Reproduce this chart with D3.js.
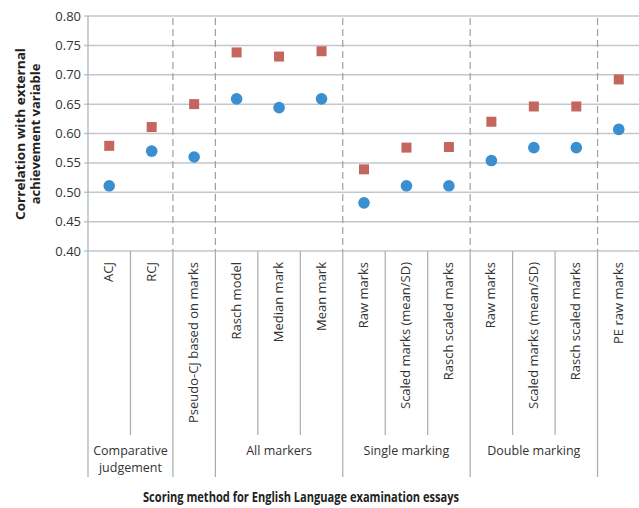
<!DOCTYPE html>
<html>
<head>
<meta charset="utf-8">
<script src="https://cdn.jsdelivr.net/npm/d3@7"></script>
<style>
    body { margin: 0; background: #fff; }
    svg { font-family: "Open Sans", "Noto Sans", sans-serif; }
</style>
</head>
<body>
<svg width="639" height="508"></svg>
<script>
const CATEGORIES = [
    'ACJ', 'RCJ', 'Pseudo-CJ based on marks',
    'Rasch model', 'Median mark', 'Mean mark',
    'Raw marks', 'Scaled marks (mean/SD)', 'Rasch scaled marks',
    'Raw marks', 'Scaled marks (mean/SD)', 'Rasch scaled marks',
    'PE raw marks'
];
const SQUARES = [0.579, 0.611, 0.650, 0.738, 0.731, 0.740, 0.539, 0.576, 0.577, 0.620, 0.646, 0.646, 0.692];
const CIRCLES = [0.511, 0.570, 0.560, 0.659, 0.644, 0.659, 0.482, 0.511, 0.511, 0.554, 0.576, 0.576, 0.607];
const Y_TICKS = [0.40, 0.45, 0.50, 0.55, 0.60, 0.65, 0.70, 0.75, 0.80];
const GROUPS = [
    { label: ['Comparative', 'judgement'], from: 0, to: 1 },
    { label: [], from: 2, to: 2 },
    { label: ['All markers'], from: 3, to: 5 },
    { label: ['Single marking'], from: 6, to: 8 },
    { label: ['Double marking'], from: 9, to: 11 },
    { label: [], from: 12, to: 12 }
];

const RED = '#c4665e';
const BLUE = '#3a8fd0';
const GRID = '#c3c7cb';
const TEXT = '#333';

const svg = d3.select('svg');
const top_ = 16, bottom = 251, left = 88, right = 640;

const x = d3.scaleBand()
    .domain(d3.range(CATEGORIES.length))
    .range([left, right]);
const y = d3.scaleLinear()
    .domain([0.40, 0.80])
    .range([bottom, top_]);

// horizontal grid
svg.append('g')
    .selectAll('line')
    .data(Y_TICKS)
    .enter()
    .append('line')
    .attr('x1', left - 4)
    .attr('x2', right)
    .attr('y1', d => y(d))
    .attr('y2', d => y(d))
    .attr('stroke', GRID)
    .attr('stroke-width', 1.5);

// y tick labels
svg.append('g')
    .selectAll('text')
    .data(Y_TICKS)
    .enter()
    .append('text')
    .attr('x', left - 7)
    .attr('y', d => y(d))
    .attr('dy', '0.35em')
    .attr('text-anchor', 'end')
    .attr('fill', TEXT)
    .style('font-size', '13px')
    .text(d => d.toFixed(2));

// left axis line, through the label area
svg.append('line')
    .attr('x1', left).attr('x2', left)
    .attr('y1', top_).attr('y2', 477)
    .attr('stroke', '#a9adb1')
    .attr('stroke-width', 1.2);

// dashed separators in the plot and solid ones below
const groupEdges = GROUPS.map(g => g.from).filter(i => i > 0);
svg.append('g')
    .selectAll('line')
    .data(groupEdges)
    .enter()
    .append('line')
    .attr('x1', d => x(d)).attr('x2', d => x(d))
    .attr('y1', top_ + 2).attr('y2', bottom)
    .attr('stroke', '#9aa0a6')
    .attr('stroke-width', 1.2)
    .attr('stroke-dasharray', '7,4');

svg.append('g')
    .selectAll('line')
    .data(groupEdges)
    .enter()
    .append('line')
    .attr('x1', d => x(d)).attr('x2', d => x(d))
    .attr('y1', bottom).attr('y2', 477)
    .attr('stroke', '#a9adb1')
    .attr('stroke-width', 1.2);

const innerEdges = d3.range(1, CATEGORIES.length).filter(i => !groupEdges.includes(i));
svg.append('g')
    .selectAll('line')
    .data(innerEdges)
    .enter()
    .append('line')
    .attr('x1', d => x(d)).attr('x2', d => x(d))
    .attr('y1', bottom).attr('y2', 435)
    .attr('stroke', '#a9adb1')
    .attr('stroke-width', 1.2);

// category labels
svg.append('g')
    .selectAll('text')
    .data(CATEGORIES)
    .enter()
    .append('text')
    .attr('transform', (d, i) => `translate(${x(i) + x.bandwidth() / 2 + 4}, 262) rotate(-90)`)
    .attr('text-anchor', 'end')
    .attr('fill', TEXT)
    .style('font-size', '13px')
    .text(d => d);

// group labels
GROUPS.forEach(g => {
    const cx = (x(g.from) + x(g.to) + x.bandwidth()) / 2;
    g.label.forEach((line, k) => {
        svg.append('text')
            .attr('x', cx)
            .attr('y', 455 + k * 17)
            .attr('text-anchor', 'middle')
            .attr('fill', TEXT)
            .style('font-size', '12.5px')
            .text(line);
    });
});

// markers
svg.append('g')
    .selectAll('rect')
    .data(SQUARES)
    .enter()
    .append('rect')
    .attr('x', (d, i) => x(i) + x.bandwidth() / 2 - 5)
    .attr('y', d => y(d) - 5)
    .attr('width', 10)
    .attr('height', 10)
    .attr('fill', RED);

svg.append('g')
    .selectAll('circle')
    .data(CIRCLES)
    .enter()
    .append('circle')
    .attr('cx', (d, i) => x(i) + x.bandwidth() / 2)
    .attr('cy', d => y(d))
    .attr('r', 5.8)
    .attr('fill', BLUE);

// axis titles
svg.append('text')
    .attr('x', 301)
    .attr('y', 502)
    .attr('text-anchor', 'middle')
    .attr('fill', '#222')
    .attr('textLength', 316)
    .attr('lengthAdjust', 'spacingAndGlyphs')
    .style('font-size', '13.5px')
    .style('font-weight', 'bold')
    .text('Scoring method for English Language examination essays');

const yTitle = svg.append('text')
    .attr('transform', 'translate(25, 134) rotate(-90)')
    .attr('text-anchor', 'middle')
    .attr('fill', '#222')
    .style('font-size', '13px')
    .style('font-weight', 'bold');
yTitle.append('tspan').attr('x', 0).attr('y', 0).attr('textLength', 172).attr('lengthAdjust', 'spacingAndGlyphs').text('Correlation with external');
yTitle.append('tspan').attr('x', 0).attr('y', 15).text('achievement variable');
</script>
</body>
</html>
